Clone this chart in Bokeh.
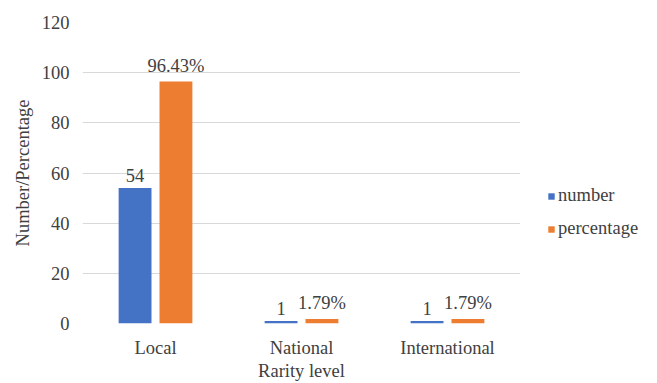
from bokeh.plotting import figure
from bokeh.models import ColumnDataSource, Legend, LegendItem, FactorRange
from bokeh.layouts import row
from bokeh.transform import dodge
from bokeh.core.properties import value
from bokeh.embed import file_html
from bokeh.resources import INLINE

categories = ["Local", "National", "International"]
number = [54, 1, 1]
percentage = [96.43, 1.79, 1.79]
number_labels = ["54", "1", "1"]
percentage_labels = ["96.43%", "1.79%", "1.79%"]
series_names = ["number", "percentage"]
series_colors = ["#4472C4", "#ED7D31"]
y_ticks = [0, 20, 40, 60, 80, 100, 120]

FONT = "Liberation Serif"
TXT = "#404040"
FS = "18.5px"

src = ColumnDataSource(dict(cat=categories, number=number, percentage=percentage,
                            nl=number_labels, pl=percentage_labels))

p = figure(x_range=FactorRange(*categories, range_padding=0), y_range=(0, 120),
           width=520, height=383, output_backend="svg", toolbar_location=None,
           min_border_left=82, min_border_right=0, min_border_top=22, min_border_bottom=60)
p.x_range.range_padding = 0

b1 = p.vbar(x=dodge("cat", -0.14, range=p.x_range), top="number", width=0.225,
            source=src, color=series_colors[0], line_color=None)
b2 = p.vbar(x=dodge("cat", 0.14, range=p.x_range), top="percentage", width=0.225,
            source=src, color=series_colors[1], line_color=None)

p.text(x=dodge("cat", -0.14, range=p.x_range), y="number", text="nl", source=src,
       text_font=value(FONT), text_font_size=FS, text_color=TXT,
       text_align="center", text_baseline="bottom", y_offset=-6)
p.text(x=dodge("cat", 0.14, range=p.x_range), y="percentage", text="pl", source=src,
       text_font=value(FONT), text_font_size=FS, text_color=TXT,
       text_align="center", text_baseline="bottom", y_offset=-6)

p.outline_line_color = None
p.xgrid.grid_line_color = None
p.ygrid.grid_line_color = "#D9D9D9"
p.ygrid.grid_line_width = 1
p.yaxis.ticker = y_ticks

for ax in (p.xaxis[0], p.yaxis[0]):
    ax.axis_line_color = None
    ax.major_tick_line_color = None
    ax.minor_tick_line_color = None
    ax.major_tick_out = 0
    ax.major_tick_in = 0
    ax.major_label_text_font = FONT
    ax.major_label_text_font_size = FS
    ax.major_label_text_color = TXT
    ax.axis_label_text_font = FONT
    ax.axis_label_text_font_size = FS
    ax.axis_label_text_color = TXT
    ax.axis_label_text_font_style = "normal"

p.xaxis.axis_label = "Rarity level"
p.yaxis.axis_label = "Number/Percentage"
p.xaxis.major_label_standoff = 14
p.xaxis.axis_label_standoff = 0
p.yaxis.major_label_standoff = 13
p.yaxis.axis_label_standoff = 6

# legend panel on the right
lf = figure(width=137, height=383, x_range=(0, 1), y_range=(0, 1),
            output_backend="svg", toolbar_location=None,
            min_border_left=0, min_border_right=0, min_border_top=0, min_border_bottom=0)
lf.axis.visible = False
lf.grid.visible = False
lf.outline_line_color = None
items = []
for name, col in zip(series_names, series_colors):
    # zero-size proxy bar, only used for the legend swatch
    r = lf.vbar(x=[0.5], top=[0], width=0, color=col, line_color=None)
    items.append(LegendItem(label=name, renderers=[r]))

legend = Legend(items=items, location=(27, 84), orientation="vertical",
                glyph_width=8, glyph_height=8, label_standoff=3,
                label_text_font=FONT, label_text_font_size=FS,
                label_text_color=TXT, label_height=20, spacing=12,
                border_line_color=None, background_fill_alpha=0, padding=0, margin=0)
lf.add_layout(legend, "center")

layout = row(p, lf, spacing=0)
open("out.html", "w").write(file_html(layout, INLINE))
